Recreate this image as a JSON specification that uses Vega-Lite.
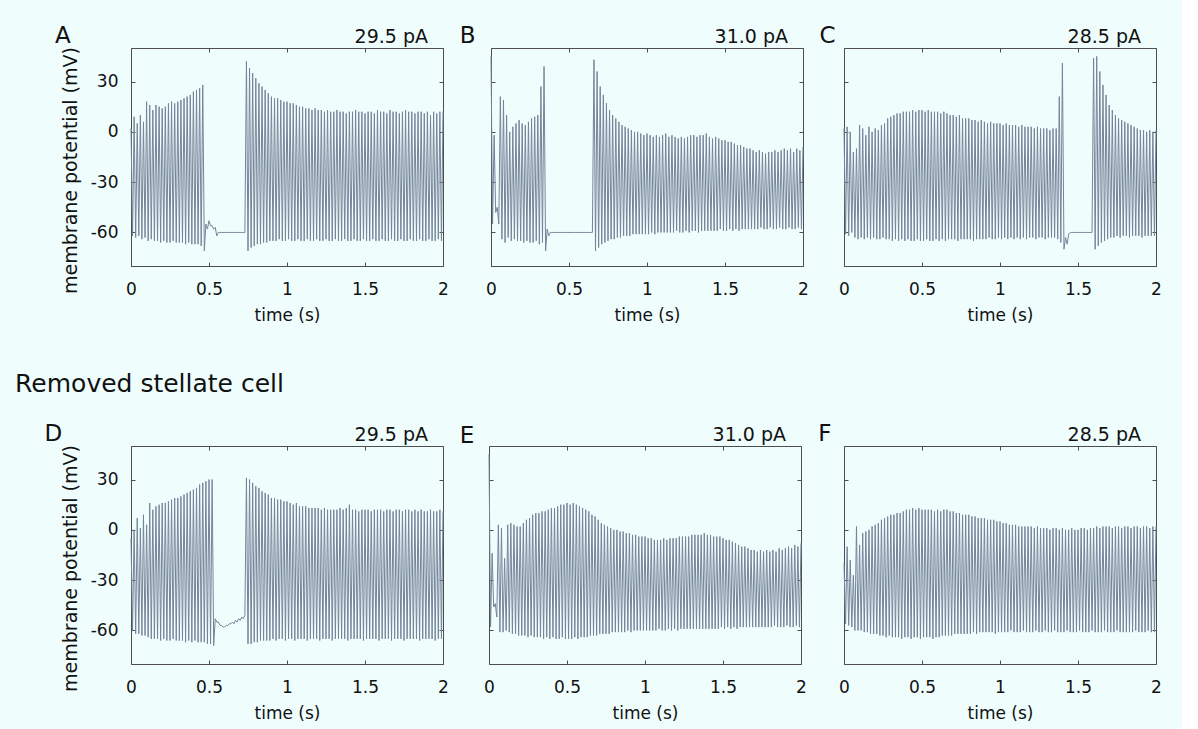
{
"$schema":"https://vega.github.io/schema/vega-lite/v6.json",
"background":"#effdfd",
"padding":{"left":15,"top":24,"right":20,"bottom":9},
"config":{"font":"DejaVu Sans","view":{"stroke":"#4d4d4d","strokeWidth":1},
"axis":{"grid":false,"domain":false,"tickSize":-4,"tickColor":"#4d4d4d","labelFontSize":17,"labelColor":"#111","titleFontSize":17,"titleFontWeight":"normal","titleColor":"#111","labelFlush":false,"labelOverlap":false},
"axisX":{"labelPadding":19,"titlePadding":10,"format":"~g"},
"axisY":{"labelPadding":17,"titlePadding":10,"titleFontSize":19,"labelExpr":"datum.value < 0 ? '-' + abs(datum.value) : '' + datum.value"},
"text":{"color":"#111"}},
"datasets":{
"labels":[{"panel":"A","letter":"A","current":"29.5 pA"},{"panel":"B","letter":"B","current":"31.0 pA"},{"panel":"C","letter":"C","current":"28.5 pA"},{"panel":"D","letter":"D","current":"29.5 pA"},{"panel":"E","letter":"E","current":"31.0 pA"},{"panel":"F","letter":"F","current":"28.5 pA"}],
"traces":[
{"t":0,"A":2,"B":45,"C":2,"D":-5,"E":45,"F":-20},
{"t":0.01,"A":-62,"B":-55,"C":-61,"D":-60,"E":-58,"F":-56},
{"t":0.02,"A":9,"B":-2,"C":3,"D":0,"E":-14,"F":-10},
{"t":0.03,"A":-63,"B":-48,"C":-62,"D":-62,"E":-46,"F":-57},
{"t":0.04,"A":5,"B":-45,"C":0,"D":7,"E":-44,"F":-18},
{"t":0.05,"A":-62,"B":-55,"C":-60,"D":-62,"E":-52,"F":-58},
{"t":0.06,"A":10,"B":21,"C":-12,"D":1,"E":3,"F":-27},
{"t":0.07,"A":-64,"B":-64,"C":-63,"D":-63,"E":-61,"F":-60},
{"t":0.08,"A":6,"B":19,"C":-10,"D":9,"E":1,"F":2},
{"t":0.09,"A":-63,"B":-66,"C":-64,"D":-63,"E":-61,"F":-60},
{"t":0.1,"A":18,"B":10,"C":4,"D":3,"E":-17,"F":-9},
{"t":0.11,"A":-65,"B":-63,"C":-63,"D":-64,"E":-60,"F":-60},
{"t":0.12,"A":16,"B":0,"C":2,"D":16,"E":3,"F":-2},
{"t":0.13,"A":-64,"B":-65,"C":-64,"D":-65,"E":-61,"F":-61},
{"t":0.14,"A":13,"B":3,"C":-2,"D":12,"E":4,"F":-1},
{"t":0.15,"A":-65,"B":-64,"C":-63,"D":-65,"E":-62,"F":-61},
{"t":0.16,"A":16,"B":5,"C":3,"D":14,"E":3,"F":0},
{"t":0.17,"A":-65,"B":-65,"C":-64,"D":-65,"E":-62,"F":-62},
{"t":0.18,"A":15,"B":7,"C":0,"D":15,"E":2,"F":2},
{"t":0.19,"A":-66,"B":-65,"C":-63,"D":-66,"E":-63,"F":-62},
{"t":0.2,"A":14,"B":5,"C":2,"D":16,"E":2,"F":3},
{"t":0.21,"A":-65,"B":-66,"C":-64,"D":-65,"E":-63,"F":-62},
{"t":0.22,"A":15,"B":4,"C":1,"D":16,"E":4,"F":4},
{"t":0.23,"A":-66,"B":-65,"C":-64,"D":-66,"E":-63,"F":-63},
{"t":0.24,"A":17,"B":6,"C":4,"D":17,"E":6,"F":6},
{"t":0.25,"A":-66,"B":-66,"C":-63,"D":-66,"E":-64,"F":-63},
{"t":0.26,"A":18,"B":8,"C":5,"D":18,"E":7,"F":7},
{"t":0.27,"A":-65,"B":-66,"C":-64,"D":-65,"E":-63,"F":-64},
{"t":0.28,"A":17,"B":9,"C":8,"D":19,"E":9,"F":8},
{"t":0.29,"A":-66,"B":-65,"C":-64,"D":-66,"E":-64,"F":-63},
{"t":0.3,"A":18,"B":10,"C":9,"D":19,"E":10,"F":9},
{"t":0.31,"A":-66,"B":-67,"C":-65,"D":-66,"E":-64,"F":-64},
{"t":0.32,"A":19,"B":27,"C":10,"D":20,"E":10,"F":9},
{"t":0.33,"A":-66,"B":-66,"C":-64,"D":-66,"E":-64,"F":-64},
{"t":0.34,"A":20,"B":39,"C":11,"D":21,"E":11,"F":10},
{"t":0.35,"A":-67,"B":-71,"C":-65,"D":-67,"E":-65,"F":-64},
{"t":0.36,"A":21,"B":-58,"C":11,"D":22,"E":11,"F":10},
{"t":0.37,"A":-66,"B":-62,"C":-64,"D":-66,"E":-64,"F":-65},
{"t":0.38,"A":22,"B":-60,"C":12,"D":23,"E":12,"F":11},
{"t":0.39,"A":-67,"B":-60,"C":-65,"D":-67,"E":-65,"F":-64},
{"t":0.4,"A":24,"B":-60,"C":12,"D":24,"E":13,"F":12},
{"t":0.41,"A":-67,"B":-60,"C":-64,"D":-66,"E":-64,"F":-64},
{"t":0.42,"A":25,"B":-60,"C":12,"D":25,"E":13,"F":12},
{"t":0.43,"A":-67,"B":-60,"C":-65,"D":-67,"E":-65,"F":-65},
{"t":0.44,"A":26,"B":-60,"C":13,"D":27,"E":14,"F":13},
{"t":0.45,"A":-68,"B":-60,"C":-65,"D":-67,"E":-65,"F":-64},
{"t":0.46,"A":28,"B":-60,"C":12,"D":28,"E":15,"F":12},
{"t":0.47,"A":-71,"B":-60,"C":-64,"D":-67,"E":-64,"F":-64},
{"t":0.48,"A":-55,"B":-60,"C":13,"D":29,"E":15,"F":13},
{"t":0.49,"A":-58,"B":-60,"C":-65,"D":-68,"E":-65,"F":-65},
{"t":0.5,"A":-53,"B":-60,"C":13,"D":30,"E":16,"F":12},
{"t":0.51,"A":-56,"B":-60,"C":-65,"D":-68,"E":-65,"F":-64},
{"t":0.52,"A":-56,"B":-60,"C":12,"D":30,"E":15,"F":12},
{"t":0.53,"A":-58,"B":-60,"C":-64,"D":-69,"E":-65,"F":-64},
{"t":0.54,"A":-57,"B":-60,"C":13,"D":-53,"E":16,"F":12},
{"t":0.55,"A":-62,"B":-60,"C":-65,"D":-55,"E":-64,"F":-64},
{"t":0.56,"A":-60,"B":-60,"C":12,"D":-55,"E":15,"F":12},
{"t":0.57,"A":-60,"B":-60,"C":-65,"D":-57,"E":-65,"F":-65},
{"t":0.58,"A":-60,"B":-60,"C":12,"D":-57,"E":14,"F":11},
{"t":0.59,"A":-60,"B":-60,"C":-64,"D":-58,"E":-64,"F":-64},
{"t":0.6,"A":-60,"B":-60,"C":12,"D":-58,"E":13,"F":12},
{"t":0.61,"A":-60,"B":-60,"C":-65,"D":-57,"E":-64,"F":-64},
{"t":0.62,"A":-60,"B":-60,"C":11,"D":-57,"E":12,"F":11},
{"t":0.63,"A":-60,"B":-60,"C":-64,"D":-56,"E":-64,"F":-63},
{"t":0.64,"A":-60,"B":-60,"C":12,"D":-56,"E":11,"F":12},
{"t":0.65,"A":-60,"B":-60,"C":-65,"D":-55,"E":-63,"F":-63},
{"t":0.66,"A":-60,"B":43,"C":11,"D":-56,"E":9,"F":12},
{"t":0.67,"A":-60,"B":-71,"C":-64,"D":-54,"E":-63,"F":-63},
{"t":0.68,"A":-60,"B":36,"C":10,"D":-55,"E":8,"F":11},
{"t":0.69,"A":-60,"B":-69,"C":-64,"D":-53,"E":-63,"F":-63},
{"t":0.7,"A":-60,"B":27,"C":10,"D":-54,"E":6,"F":11},
{"t":0.71,"A":-60,"B":-67,"C":-64,"D":-52,"E":-62,"F":-62},
{"t":0.72,"A":-60,"B":22,"C":9,"D":-53,"E":4,"F":10},
{"t":0.73,"A":-60,"B":-66,"C":-65,"D":-51,"E":-62,"F":-62},
{"t":0.74,"A":42,"B":17,"C":10,"D":31,"E":3,"F":10},
{"t":0.75,"A":-71,"B":-65,"C":-64,"D":-68,"E":-62,"F":-62},
{"t":0.76,"A":38,"B":13,"C":8,"D":30,"E":2,"F":9},
{"t":0.77,"A":-69,"B":-64,"C":-64,"D":-68,"E":-62,"F":-62},
{"t":0.78,"A":35,"B":10,"C":8,"D":28,"E":1,"F":9},
{"t":0.79,"A":-68,"B":-64,"C":-64,"D":-67,"E":-61,"F":-62},
{"t":0.8,"A":32,"B":8,"C":8,"D":26,"E":0,"F":9},
{"t":0.81,"A":-67,"B":-63,"C":-64,"D":-67,"E":-61,"F":-62},
{"t":0.82,"A":29,"B":6,"C":7,"D":25,"E":0,"F":8},
{"t":0.83,"A":-67,"B":-63,"C":-65,"D":-66,"E":-61,"F":-61},
{"t":0.84,"A":27,"B":4,"C":7,"D":23,"E":-1,"F":8},
{"t":0.85,"A":-66,"B":-62,"C":-64,"D":-66,"E":-61,"F":-62},
{"t":0.86,"A":25,"B":3,"C":6,"D":22,"E":-1,"F":7},
{"t":0.87,"A":-66,"B":-62,"C":-64,"D":-66,"E":-61,"F":-61},
{"t":0.88,"A":23,"B":2,"C":7,"D":21,"E":-2,"F":7},
{"t":0.89,"A":-65,"B":-62,"C":-64,"D":-66,"E":-60,"F":-61},
{"t":0.9,"A":21,"B":1,"C":6,"D":19,"E":-2,"F":7},
{"t":0.91,"A":-65,"B":-61,"C":-64,"D":-65,"E":-61,"F":-61},
{"t":0.92,"A":20,"B":0,"C":5,"D":19,"E":-3,"F":6},
{"t":0.93,"A":-65,"B":-61,"C":-63,"D":-66,"E":-60,"F":-61},
{"t":0.94,"A":20,"B":0,"C":6,"D":18,"E":-3,"F":6},
{"t":0.95,"A":-64,"B":-61,"C":-64,"D":-65,"E":-60,"F":-61},
{"t":0.96,"A":19,"B":-1,"C":5,"D":18,"E":-4,"F":6},
{"t":0.97,"A":-65,"B":-61,"C":-64,"D":-65,"E":-60,"F":-62},
{"t":0.98,"A":18,"B":-2,"C":5,"D":17,"E":-4,"F":5},
{"t":0.99,"A":-65,"B":-61,"C":-63,"D":-66,"E":-60,"F":-61},
{"t":1,"A":18,"B":-1,"C":5,"D":17,"E":-4,"F":5},
{"t":1.01,"A":-64,"B":-61,"C":-64,"D":-65,"E":-60,"F":-61},
{"t":1.02,"A":17,"B":-2,"C":4,"D":16,"E":-5,"F":4},
{"t":1.03,"A":-65,"B":-60,"C":-63,"D":-65,"E":-60,"F":-61},
{"t":1.04,"A":17,"B":-3,"C":5,"D":15,"E":-5,"F":4},
{"t":1.05,"A":-65,"B":-61,"C":-64,"D":-66,"E":-60,"F":-61},
{"t":1.06,"A":16,"B":-2,"C":4,"D":16,"E":-6,"F":3},
{"t":1.07,"A":-64,"B":-60,"C":-63,"D":-65,"E":-60,"F":-60},
{"t":1.08,"A":15,"B":-3,"C":4,"D":14,"E":-6,"F":3},
{"t":1.09,"A":-65,"B":-60,"C":-64,"D":-65,"E":-59,"F":-61},
{"t":1.1,"A":15,"B":-2,"C":4,"D":14,"E":-6,"F":3},
{"t":1.11,"A":-65,"B":-60,"C":-63,"D":-65,"E":-60,"F":-61},
{"t":1.12,"A":14,"B":-1,"C":3,"D":14,"E":-5,"F":2},
{"t":1.13,"A":-64,"B":-60,"C":-64,"D":-66,"E":-60,"F":-61},
{"t":1.14,"A":14,"B":-3,"C":4,"D":13,"E":-6,"F":2},
{"t":1.15,"A":-65,"B":-60,"C":-63,"D":-65,"E":-59,"F":-60},
{"t":1.16,"A":13,"B":-2,"C":3,"D":13,"E":-5,"F":2},
{"t":1.17,"A":-65,"B":-60,"C":-64,"D":-65,"E":-60,"F":-61},
{"t":1.18,"A":14,"B":-3,"C":3,"D":13,"E":-5,"F":2},
{"t":1.19,"A":-64,"B":-59,"C":-63,"D":-65,"E":-59,"F":-61},
{"t":1.2,"A":13,"B":-4,"C":3,"D":13,"E":-5,"F":2},
{"t":1.21,"A":-65,"B":-60,"C":-63,"D":-66,"E":-60,"F":-61},
{"t":1.22,"A":13,"B":-3,"C":2,"D":12,"E":-4,"F":1},
{"t":1.23,"A":-65,"B":-60,"C":-64,"D":-65,"E":-59,"F":-60},
{"t":1.24,"A":12,"B":-4,"C":3,"D":13,"E":-4,"F":2},
{"t":1.25,"A":-64,"B":-59,"C":-63,"D":-65,"E":-59,"F":-61},
{"t":1.26,"A":13,"B":-3,"C":2,"D":12,"E":-4,"F":1},
{"t":1.27,"A":-65,"B":-60,"C":-63,"D":-65,"E":-59,"F":-61},
{"t":1.28,"A":12,"B":-2,"C":2,"D":12,"E":-4,"F":1},
{"t":1.29,"A":-65,"B":-59,"C":-64,"D":-66,"E":-59,"F":-60},
{"t":1.3,"A":12,"B":-2,"C":2,"D":12,"E":-3,"F":1},
{"t":1.31,"A":-64,"B":-59,"C":-63,"D":-65,"E":-59,"F":-61},
{"t":1.32,"A":13,"B":-3,"C":1,"D":12,"E":-3,"F":0},
{"t":1.33,"A":-65,"B":-60,"C":-63,"D":-65,"E":-59,"F":-61},
{"t":1.34,"A":12,"B":-2,"C":2,"D":13,"E":-3,"F":1},
{"t":1.35,"A":-65,"B":-59,"C":-63,"D":-65,"E":-59,"F":-60},
{"t":1.36,"A":12,"B":-2,"C":2,"D":12,"E":-3,"F":1},
{"t":1.37,"A":-64,"B":-59,"C":-64,"D":-65,"E":-59,"F":-61},
{"t":1.38,"A":11,"B":-1,"C":21,"D":13,"E":-2,"F":0},
{"t":1.39,"A":-65,"B":-59,"C":-66,"D":-66,"E":-59,"F":-61},
{"t":1.4,"A":12,"B":-3,"C":41,"D":15,"E":-3,"F":1},
{"t":1.41,"A":-65,"B":-59,"C":-70,"D":-65,"E":-59,"F":-61},
{"t":1.42,"A":12,"B":-4,"C":-63,"D":12,"E":-3,"F":0},
{"t":1.43,"A":-64,"B":-59,"C":-67,"D":-65,"E":-59,"F":-60},
{"t":1.44,"A":13,"B":-3,"C":-61,"D":12,"E":-4,"F":0},
{"t":1.45,"A":-65,"B":-59,"C":-60,"D":-65,"E":-59,"F":-61},
{"t":1.46,"A":12,"B":-4,"C":-60,"D":11,"E":-4,"F":1},
{"t":1.47,"A":-65,"B":-58,"C":-60,"D":-65,"E":-59,"F":-61},
{"t":1.48,"A":12,"B":-5,"C":-60,"D":12,"E":-4,"F":0},
{"t":1.49,"A":-64,"B":-59,"C":-60,"D":-66,"E":-58,"F":-61},
{"t":1.5,"A":11,"B":-5,"C":-60,"D":12,"E":-5,"F":0},
{"t":1.51,"A":-65,"B":-59,"C":-60,"D":-65,"E":-59,"F":-60},
{"t":1.52,"A":12,"B":-6,"C":-60,"D":12,"E":-6,"F":1},
{"t":1.53,"A":-65,"B":-58,"C":-60,"D":-65,"E":-58,"F":-61},
{"t":1.54,"A":12,"B":-6,"C":-60,"D":11,"E":-6,"F":1},
{"t":1.55,"A":-64,"B":-59,"C":-60,"D":-65,"E":-59,"F":-61},
{"t":1.56,"A":11,"B":-7,"C":-60,"D":12,"E":-7,"F":0},
{"t":1.57,"A":-65,"B":-58,"C":-60,"D":-65,"E":-58,"F":-61},
{"t":1.58,"A":13,"B":-8,"C":-60,"D":12,"E":-8,"F":1},
{"t":1.59,"A":-65,"B":-59,"C":-60,"D":-66,"E":-59,"F":-60},
{"t":1.6,"A":12,"B":-8,"C":44,"D":12,"E":-9,"F":1},
{"t":1.61,"A":-64,"B":-58,"C":-70,"D":-65,"E":-58,"F":-61},
{"t":1.62,"A":12,"B":-9,"C":45,"D":11,"E":-10,"F":2},
{"t":1.63,"A":-65,"B":-58,"C":-68,"D":-65,"E":-58,"F":-61},
{"t":1.64,"A":11,"B":-10,"C":36,"D":12,"E":-10,"F":1},
{"t":1.65,"A":-65,"B":-58,"C":-66,"D":-65,"E":-58,"F":-61},
{"t":1.66,"A":13,"B":-10,"C":28,"D":12,"E":-11,"F":2},
{"t":1.67,"A":-64,"B":-58,"C":-65,"D":-66,"E":-58,"F":-60},
{"t":1.68,"A":12,"B":-11,"C":22,"D":11,"E":-12,"F":2},
{"t":1.69,"A":-65,"B":-58,"C":-64,"D":-65,"E":-58,"F":-61},
{"t":1.7,"A":12,"B":-12,"C":16,"D":12,"E":-12,"F":2},
{"t":1.71,"A":-65,"B":-58,"C":-63,"D":-65,"E":-58,"F":-61},
{"t":1.72,"A":11,"B":-11,"C":13,"D":12,"E":-13,"F":1},
{"t":1.73,"A":-64,"B":-57,"C":-63,"D":-65,"E":-58,"F":-61},
{"t":1.74,"A":12,"B":-12,"C":10,"D":11,"E":-12,"F":2},
{"t":1.75,"A":-65,"B":-58,"C":-62,"D":-66,"E":-58,"F":-60},
{"t":1.76,"A":13,"B":-13,"C":8,"D":12,"E":-13,"F":2},
{"t":1.77,"A":-65,"B":-58,"C":-63,"D":-65,"E":-58,"F":-61},
{"t":1.78,"A":12,"B":-12,"C":7,"D":12,"E":-12,"F":1},
{"t":1.79,"A":-64,"B":-57,"C":-62,"D":-65,"E":-58,"F":-61},
{"t":1.8,"A":12,"B":-12,"C":6,"D":11,"E":-13,"F":2},
{"t":1.81,"A":-65,"B":-58,"C":-62,"D":-65,"E":-58,"F":-61},
{"t":1.82,"A":11,"B":-11,"C":5,"D":12,"E":-12,"F":2},
{"t":1.83,"A":-65,"B":-58,"C":-63,"D":-65,"E":-57,"F":-61},
{"t":1.84,"A":12,"B":-12,"C":4,"D":11,"E":-13,"F":1},
{"t":1.85,"A":-64,"B":-57,"C":-62,"D":-66,"E":-58,"F":-61},
{"t":1.86,"A":12,"B":-11,"C":3,"D":12,"E":-11,"F":2},
{"t":1.87,"A":-65,"B":-58,"C":-62,"D":-65,"E":-58,"F":-60},
{"t":1.88,"A":11,"B":-10,"C":2,"D":11,"E":-12,"F":2},
{"t":1.89,"A":-65,"B":-58,"C":-62,"D":-65,"E":-58,"F":-61},
{"t":1.9,"A":12,"B":-11,"C":1,"D":11,"E":-11,"F":1},
{"t":1.91,"A":-64,"B":-57,"C":-63,"D":-65,"E":-57,"F":-61},
{"t":1.92,"A":10,"B":-10,"C":1,"D":12,"E":-10,"F":2},
{"t":1.93,"A":-65,"B":-58,"C":-62,"D":-65,"E":-58,"F":-61},
{"t":1.94,"A":12,"B":-12,"C":0,"D":11,"E":-11,"F":2},
{"t":1.95,"A":-65,"B":-58,"C":-62,"D":-66,"E":-58,"F":-60},
{"t":1.96,"A":11,"B":-10,"C":1,"D":11,"E":-9,"F":1},
{"t":1.97,"A":-64,"B":-57,"C":-62,"D":-65,"E":-57,"F":-61},
{"t":1.98,"A":12,"B":-11,"C":0,"D":12,"E":-10,"F":2},
{"t":1.99,"A":-65,"B":-58,"C":-62,"D":-65,"E":-58,"F":-61},
{"t":2,"A":12,"B":-9,"C":1,"D":11,"E":-8,"F":2}
]},
"spacing":48,
"vconcat":[
{"spacing":10,"hconcat":[
{"width":312,"height":218,"resolve":{"axis":{"x":"independent","y":"independent"}},"layer":[
{"data":{"name":"traces"},"mark":{"type":"line","color":"#76849a","strokeWidth":1},"encoding":{"x":{"field":"t","type":"quantitative","scale":{"domain":[0,2]},"axis":{"orient":"bottom","values":[0,0.5,1,1.5,2],"title":"time (s)"}},"y":{"field":"A","type":"quantitative","scale":{"domain":[-80,50]},"axis":{"orient":"left","values":[-60,-30,0,30],"title":"membrane potential (mV)","titleY":122}}}},
{"data":{"name":"labels"},"transform":[{"filter":"datum.panel==='A'"}],"mark":{"type":"text","fontSize":23,"align":"center","baseline":"alphabetic"},"encoding":{"x":{"datum":-0.436,"type":"quantitative","axis":{"orient":"top","values":[0,0.5,1,1.5,2],"labels":false,"title":null}},"y":{"datum":53,"type":"quantitative","axis":{"orient":"right","values":[-60,-30,0,30],"labels":false,"title":null}},"text":{"field":"letter"}}},
{"data":{"name":"labels"},"transform":[{"filter":"datum.panel==='A'"}],"mark":{"type":"text","fontSize":19,"align":"right","baseline":"alphabetic"},"encoding":{"x":{"datum":1.904,"type":"quantitative","axis":null},"y":{"datum":53,"type":"quantitative","axis":null},"text":{"field":"current"}}}
]},
{"width":312,"height":218,"resolve":{"axis":{"x":"independent","y":"independent"}},"layer":[
{"data":{"name":"traces"},"mark":{"type":"line","color":"#76849a","strokeWidth":1},"encoding":{"x":{"field":"t","type":"quantitative","scale":{"domain":[0,2]},"axis":{"orient":"bottom","values":[0,0.5,1,1.5,2],"title":"time (s)"}},"y":{"field":"B","type":"quantitative","scale":{"domain":[-80,50]},"axis":{"orient":"left","values":[-60,-30,0,30],"labels":false,"title":null}}}},
{"data":{"name":"labels"},"transform":[{"filter":"datum.panel==='B'"}],"mark":{"type":"text","fontSize":23,"align":"center","baseline":"alphabetic"},"encoding":{"x":{"datum":-0.15,"type":"quantitative","axis":{"orient":"top","values":[0,0.5,1,1.5,2],"labels":false,"title":null}},"y":{"datum":53,"type":"quantitative","axis":{"orient":"right","values":[-60,-30,0,30],"labels":false,"title":null}},"text":{"field":"letter"}}},
{"data":{"name":"labels"},"transform":[{"filter":"datum.panel==='B'"}],"mark":{"type":"text","fontSize":19,"align":"right","baseline":"alphabetic"},"encoding":{"x":{"datum":1.904,"type":"quantitative","axis":null},"y":{"datum":53,"type":"quantitative","axis":null},"text":{"field":"current"}}}
]},
{"width":312,"height":218,"resolve":{"axis":{"x":"independent","y":"independent"}},"layer":[
{"data":{"name":"traces"},"mark":{"type":"line","color":"#76849a","strokeWidth":1},"encoding":{"x":{"field":"t","type":"quantitative","scale":{"domain":[0,2]},"axis":{"orient":"bottom","values":[0,0.5,1,1.5,2],"title":"time (s)"}},"y":{"field":"C","type":"quantitative","scale":{"domain":[-80,50]},"axis":{"orient":"left","values":[-60,-30,0,30],"labels":false,"title":null}}}},
{"data":{"name":"labels"},"transform":[{"filter":"datum.panel==='C'"}],"mark":{"type":"text","fontSize":23,"align":"center","baseline":"alphabetic"},"encoding":{"x":{"datum":-0.105,"type":"quantitative","axis":{"orient":"top","values":[0,0.5,1,1.5,2],"labels":false,"title":null}},"y":{"datum":53,"type":"quantitative","axis":{"orient":"right","values":[-60,-30,0,30],"labels":false,"title":null}},"text":{"field":"letter"}}},
{"data":{"name":"labels"},"transform":[{"filter":"datum.panel==='C'"}],"mark":{"type":"text","fontSize":19,"align":"right","baseline":"alphabetic"},"encoding":{"x":{"datum":1.904,"type":"quantitative","axis":null},"y":{"datum":53,"type":"quantitative","axis":null},"text":{"field":"current"}}}
]}
]},
{"spacing":10,"title":{"text":"Removed stellate cell","anchor":"start","fontSize":25,"fontWeight":"normal","color":"#111","dx":-29,"offset":25},"hconcat":[
{"width":312,"height":218,"resolve":{"axis":{"x":"independent","y":"independent"}},"layer":[
{"data":{"name":"traces"},"mark":{"type":"line","color":"#76849a","strokeWidth":1},"encoding":{"x":{"field":"t","type":"quantitative","scale":{"domain":[0,2]},"axis":{"orient":"bottom","values":[0,0.5,1,1.5,2],"title":"time (s)"}},"y":{"field":"D","type":"quantitative","scale":{"domain":[-80,50]},"axis":{"orient":"left","values":[-60,-30,0,30],"title":"membrane potential (mV)","titleY":122}}}},
{"data":{"name":"labels"},"transform":[{"filter":"datum.panel==='D'"}],"mark":{"type":"text","fontSize":23,"align":"center","baseline":"alphabetic"},"encoding":{"x":{"datum":-0.497,"type":"quantitative","axis":{"orient":"top","values":[0,0.5,1,1.5,2],"labels":false,"title":null}},"y":{"datum":53,"type":"quantitative","axis":{"orient":"right","values":[-60,-30,0,30],"labels":false,"title":null}},"text":{"field":"letter"}}},
{"data":{"name":"labels"},"transform":[{"filter":"datum.panel==='D'"}],"mark":{"type":"text","fontSize":19,"align":"right","baseline":"alphabetic"},"encoding":{"x":{"datum":1.904,"type":"quantitative","axis":null},"y":{"datum":53,"type":"quantitative","axis":null},"text":{"field":"current"}}}
]},
{"width":312,"height":218,"resolve":{"axis":{"x":"independent","y":"independent"}},"layer":[
{"data":{"name":"traces"},"mark":{"type":"line","color":"#76849a","strokeWidth":1},"encoding":{"x":{"field":"t","type":"quantitative","scale":{"domain":[0,2]},"axis":{"orient":"bottom","values":[0,0.5,1,1.5,2],"title":"time (s)"}},"y":{"field":"E","type":"quantitative","scale":{"domain":[-80,50]},"axis":{"orient":"left","values":[-60,-30,0,30],"labels":false,"title":null}}}},
{"data":{"name":"labels"},"transform":[{"filter":"datum.panel==='E'"}],"mark":{"type":"text","fontSize":23,"align":"center","baseline":"alphabetic"},"encoding":{"x":{"datum":-0.141,"type":"quantitative","axis":{"orient":"top","values":[0,0.5,1,1.5,2],"labels":false,"title":null}},"y":{"datum":52,"type":"quantitative","axis":{"orient":"right","values":[-60,-30,0,30],"labels":false,"title":null}},"text":{"field":"letter"}}},
{"data":{"name":"labels"},"transform":[{"filter":"datum.panel==='E'"}],"mark":{"type":"text","fontSize":19,"align":"right","baseline":"alphabetic"},"encoding":{"x":{"datum":1.904,"type":"quantitative","axis":null},"y":{"datum":53,"type":"quantitative","axis":null},"text":{"field":"current"}}}
]},
{"width":312,"height":218,"resolve":{"axis":{"x":"independent","y":"independent"}},"layer":[
{"data":{"name":"traces"},"mark":{"type":"line","color":"#76849a","strokeWidth":1},"encoding":{"x":{"field":"t","type":"quantitative","scale":{"domain":[0,2]},"axis":{"orient":"bottom","values":[0,0.5,1,1.5,2],"title":"time (s)"}},"y":{"field":"F","type":"quantitative","scale":{"domain":[-80,50]},"axis":{"orient":"left","values":[-60,-30,0,30],"labels":false,"title":null}}}},
{"data":{"name":"labels"},"transform":[{"filter":"datum.panel==='F'"}],"mark":{"type":"text","fontSize":23,"align":"center","baseline":"alphabetic"},"encoding":{"x":{"datum":-0.122,"type":"quantitative","axis":{"orient":"top","values":[0,0.5,1,1.5,2],"labels":false,"title":null}},"y":{"datum":53,"type":"quantitative","axis":{"orient":"right","values":[-60,-30,0,30],"labels":false,"title":null}},"text":{"field":"letter"}}},
{"data":{"name":"labels"},"transform":[{"filter":"datum.panel==='F'"}],"mark":{"type":"text","fontSize":19,"align":"right","baseline":"alphabetic"},"encoding":{"x":{"datum":1.904,"type":"quantitative","axis":null},"y":{"datum":53,"type":"quantitative","axis":null},"text":{"field":"current"}}}
]}
]}
]
}
